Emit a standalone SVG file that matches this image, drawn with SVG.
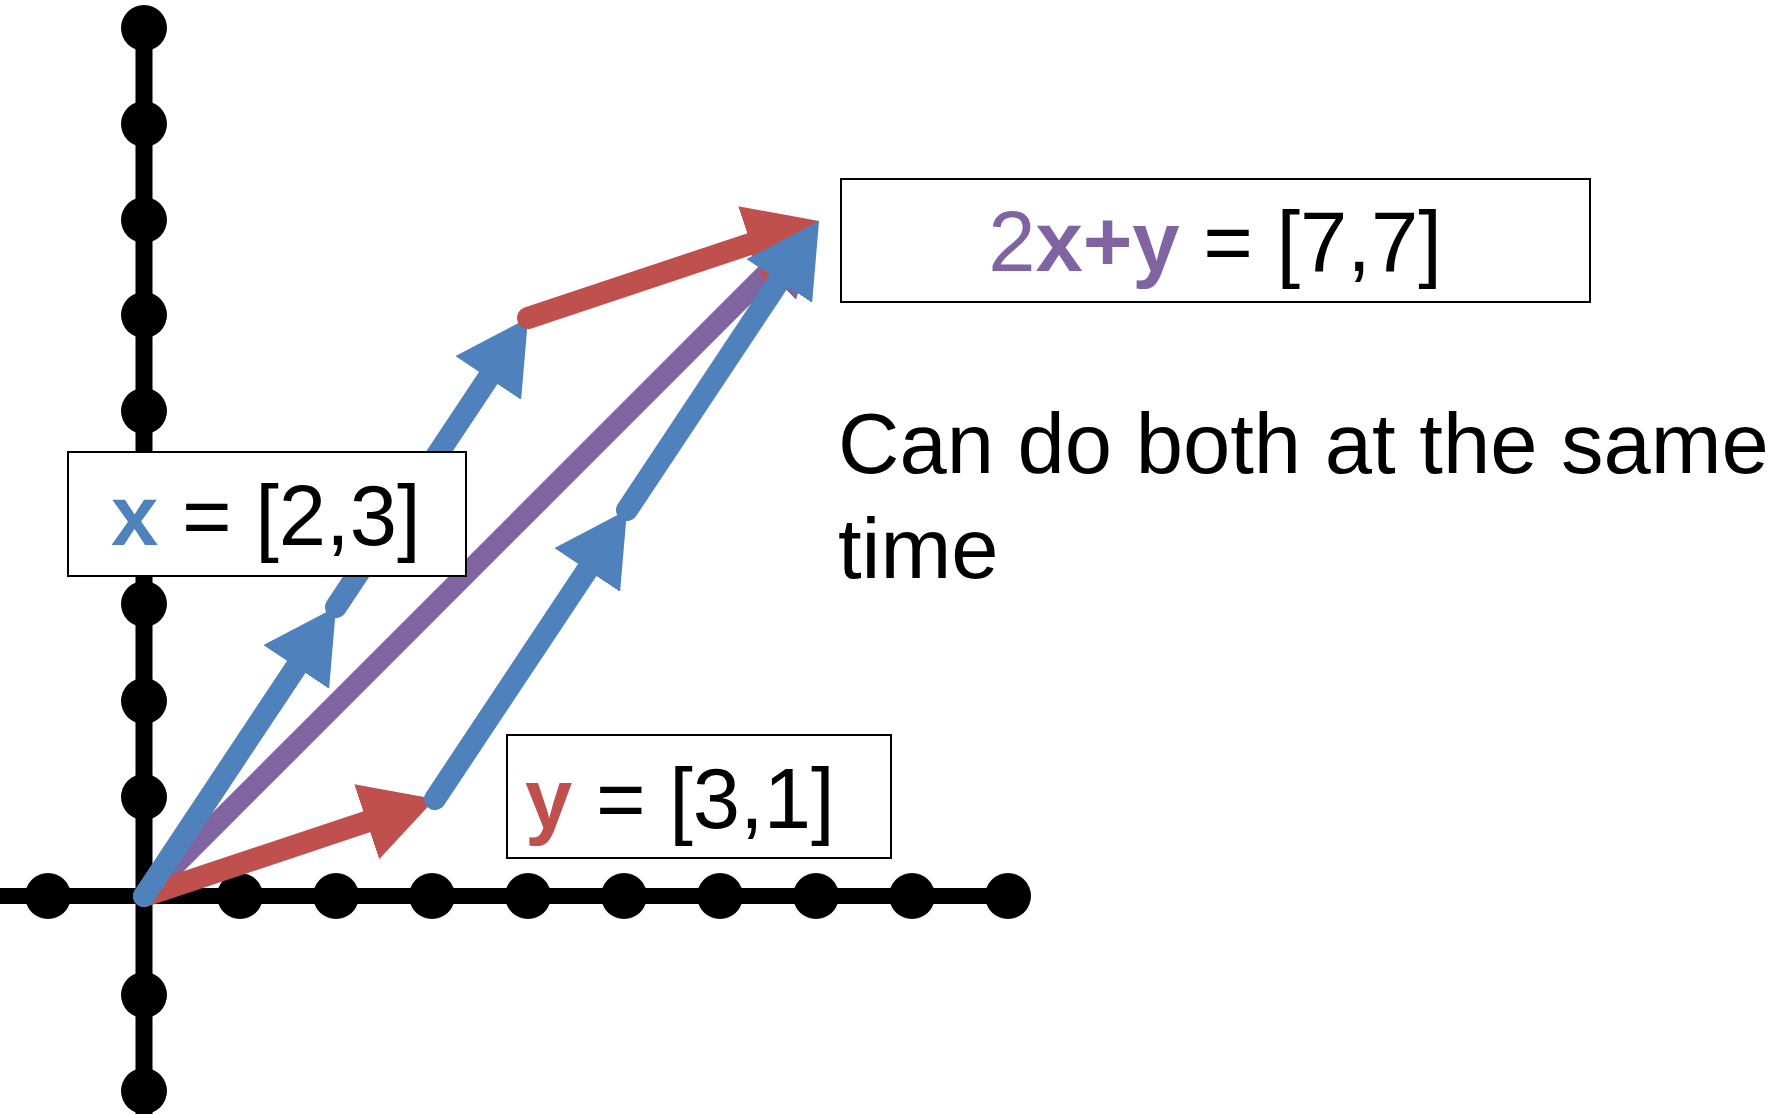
<svg xmlns="http://www.w3.org/2000/svg" width="1787" height="1114" viewBox="0 0 1787 1114">
  <style>
    .axis { stroke: #000; stroke-width: 16; fill: none; }
    .dot { fill: #000; }
    .vec { fill: none; stroke-width: 22; stroke-linecap: round; }
    .blue { stroke: #4F81BD; }
    .red { stroke: #C0504D; }
    .purple { stroke: #8064A2; stroke-width: 21; }
    .box { fill: #fff; stroke: #000; stroke-width: 2; }
    text { font-family: "Liberation Sans", Arial, sans-serif; font-size: 85px; fill: #000; }
    .b { font-weight: bold; }
  </style>
  <defs>
    <marker id="headBlue" markerUnits="userSpaceOnUse" markerWidth="72" markerHeight="79" viewBox="0 0 72 79" refX="2" refY="39.5" orient="auto">
      <path d="M0,0 L72,39.5 L0,79 z" fill="#4F81BD"/>
    </marker>
    <marker id="headRed" markerUnits="userSpaceOnUse" markerWidth="72" markerHeight="79" viewBox="0 0 72 79" refX="2" refY="39.5" orient="auto">
      <path d="M0,0 L72,39.5 L0,79 z" fill="#C0504D"/>
    </marker>
    <marker id="headPurple" markerUnits="userSpaceOnUse" markerWidth="72" markerHeight="79" viewBox="0 0 72 79" refX="2" refY="39.5" orient="auto">
      <path d="M0,0 L72,39.5 L0,79 z" fill="#8064A2"/>
    </marker>
  </defs>
  <rect width="1787" height="1114" fill="#fff"/>

  <g id="axes">
    <line class="axis" x1="0" y1="896" x2="1008" y2="896"/>
    <line class="axis" x1="144" y1="28" x2="144" y2="1114" style="stroke-width:17"/>
    <g class="dot">
      <circle cx="48" cy="896" r="23"/>
      <circle cx="240" cy="896" r="23"/>
      <circle cx="336" cy="896" r="23"/>
      <circle cx="432" cy="896" r="23"/>
      <circle cx="528" cy="896" r="23"/>
      <circle cx="624" cy="896" r="23"/>
      <circle cx="720" cy="896" r="23"/>
      <circle cx="816" cy="896" r="23"/>
      <circle cx="912" cy="896" r="23"/>
      <circle cx="1008" cy="896" r="23"/>
      <circle cx="144" cy="28" r="23"/>
      <circle cx="144" cy="124" r="23"/>
      <circle cx="144" cy="220" r="23"/>
      <circle cx="144" cy="315" r="23"/>
      <circle cx="144" cy="411" r="23"/>
      <circle cx="144" cy="604" r="23"/>
      <circle cx="144" cy="701" r="23"/>
      <circle cx="144" cy="797" r="23"/>
      <circle cx="144" cy="995" r="23"/>
      <circle cx="144" cy="1091" r="23"/>
    </g>
  </g>

  <g id="connectors">
    <line id="sum" class="vec purple" x1="144" y1="896" x2="769.5" y2="270.5" marker-end="url(#headPurple)"/>
    <line id="y1" class="vec red" x1="144" y1="896" x2="368.6" y2="821.1" marker-end="url(#headRed)"/>
    <line id="x1" class="vec blue" x1="144" y1="896" x2="297.3" y2="665.3" marker-end="url(#headBlue)"/>
    <line id="x2" class="vec blue" x1="336" y1="607" x2="489.3" y2="376.3" marker-end="url(#headBlue)"/>
    <line id="y2" class="vec red" x1="528" y1="318" x2="752.6" y2="243.1" marker-end="url(#headRed)"/>
    <line id="x3" class="vec blue" x1="435" y1="799" x2="588.3" y2="568.3" marker-end="url(#headBlue)"/>
    <line id="x4" class="vec blue" x1="627" y1="510" x2="780.3" y2="279.3" marker-end="url(#headBlue)"/>
  </g>

  <g id="label-x">
    <rect class="box" x="68" y="452" width="398" height="124"/>
    <text x="111" y="545"><tspan class="b" fill="#4F81BD">x</tspan> = [2,3]</text>
  </g>

  <g id="label-y">
    <rect class="box" x="507" y="735" width="384" height="123"/>
    <text x="525" y="828"><tspan class="b" fill="#C0504D">y</tspan> = [3,1]</text>
  </g>

  <g id="label-sum">
    <rect class="box" x="841" y="179" width="749" height="123"/>
    <text x="1215" y="271" text-anchor="middle"><tspan fill="#8064A2">2</tspan><tspan class="b" fill="#8064A2">x+y</tspan> = [7,7]</text>
  </g>

  <g id="note">
    <text x="838" y="473">Can do both at the same</text>
    <text x="838" y="578">time</text>
  </g>
</svg>
